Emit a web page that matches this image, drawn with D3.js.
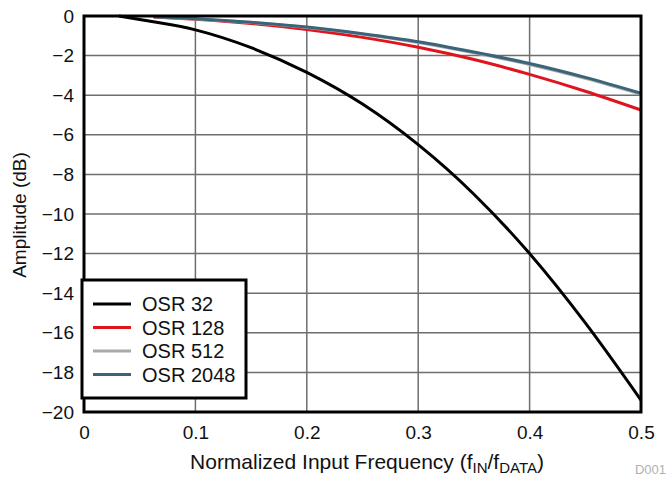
<!DOCTYPE html>
<html>
<head>
<meta charset="utf-8">
<script src="https://cdn.jsdelivr.net/npm/d3@7"></script>
<style>
  body { margin: 0; background: #fff; }
  text { font-family: "Liberation Sans", Arial, sans-serif; fill: #111; }
</style>
</head>
<body>
<svg id="chart" width="668" height="477"></svg>
<script>
// frequency points (f_IN / f_DATA)
var freqLow = [0.03125, 0.05, 0.1, 0.15, 0.2, 0.25, 0.3, 0.35, 0.4, 0.45, 0.5];
var freqHigh = [0.0625, 0.1, 0.15, 0.2, 0.25, 0.3, 0.35, 0.4, 0.45, 0.5];

// amplitude in dB
var osr32 = [0, -0.18, -0.7, -1.6, -2.85, -4.45, -6.5, -9.0, -12.0, -15.5, -19.4];
var osr128 = [-0.05, -0.17, -0.38, -0.68, -1.08, -1.58, -2.2, -2.95, -3.8, -4.75];
var osr512 = [-0.04, -0.15, -0.33, -0.58, -0.92, -1.34, -1.86, -2.45, -3.15, -3.95];
var osr2048 = [-0.04, -0.14, -0.32, -0.56, -0.9, -1.3, -1.82, -2.4, -3.1, -3.9];

var seriesNames = ["OSR 32", "OSR 128", "OSR 512", "OSR 2048"];
var seriesColors = ["#000000", "#e0141c", "#a9a9a9", "#3b6478"];

var xTicks = [0, 0.1, 0.2, 0.3, 0.4, 0.5];
var yTicks = [0, -2, -4, -6, -8, -10, -12, -14, -16, -18, -20];

(function(){
    var svg = d3.select("#chart");
    var left = 84, right = 641, top = 16, bottom = 412;
    var font = "Liberation Sans, Arial, sans-serif";

    var x = d3.scaleLinear().domain([0, 0.5]).range([left, right]);
    var y = d3.scaleLinear().domain([0, -20]).range([top, bottom]);

    //grid
    svg.append("g").selectAll("line").data(yTicks).enter().append("line")
        .attr("x1", left).attr("x2", right)
        .attr("y1", function(d){ return y(d); }).attr("y2", function(d){ return y(d); })
        .attr("stroke", "#6e6e6e").attr("stroke-width", 1.5);
    svg.append("g").selectAll("line").data(xTicks).enter().append("line")
        .attr("y1", top).attr("y2", bottom)
        .attr("x1", function(d){ return x(d); }).attr("x2", function(d){ return x(d); })
        .attr("stroke", "#6e6e6e").attr("stroke-width", 1.5);

    //tick labels via d3 axes
    var xAxis = d3.axisBottom(x).tickValues(xTicks).tickSize(0).tickPadding(14)
        .tickFormat(function(d){ return d === 0 ? "0" : d3.format(".1f")(d); });
    var gx = svg.append("g").attr("transform", "translate(0," + bottom + ")").call(xAxis);
    gx.select(".domain").remove();
    gx.selectAll("text").attr("font-size", 19).attr("font-family", font).attr("fill", "#111");

    var yAxis = d3.axisLeft(y).tickValues(yTicks).tickSize(0).tickPadding(10)
        .tickFormat(d3.format("d"));
    var gy = svg.append("g").attr("transform", "translate(" + left + ",0)").call(yAxis);
    gy.select(".domain").remove();
    gy.selectAll("text").attr("font-size", 19).attr("font-family", font).attr("fill", "#111");

    //curves
    var line = d3.line()
        .x(function(d){ return x(d[0]); })
        .y(function(d){ return y(d[1]); })
        .curve(d3.curveMonotoneX);
    var all = [
        d3.zip(freqLow, osr32),
        d3.zip(freqHigh, osr128),
        d3.zip(freqHigh, osr512),
        d3.zip(freqHigh, osr2048)
    ];
    svg.append("g").selectAll("path").data(all).enter().append("path")
        .attr("d", line)
        .attr("fill", "none")
        .attr("stroke", function(d, i){ return seriesColors[i]; })
        .attr("stroke-width", 3);

    //frame
    svg.append("rect")
        .attr("x", left).attr("y", top)
        .attr("width", right - left).attr("height", bottom - top)
        .attr("fill", "none").attr("stroke", "#000").attr("stroke-width", 3);

    //legend
    var lg = svg.append("g");
    lg.append("rect")
        .attr("x", 82).attr("y", 280).attr("width", 164).attr("height", 118)
        .attr("fill", "#fff").attr("stroke", "#000").attr("stroke-width", 3);
    var rows = lg.selectAll("g.row").data(seriesNames).enter().append("g")
        .attr("transform", function(d, i){ return "translate(0," + (304 + i * 23.5) + ")"; });
    rows.append("line")
        .attr("x1", 93).attr("x2", 131).attr("y1", 0).attr("y2", 0)
        .attr("stroke", function(d, i){ return seriesColors[i]; })
        .attr("stroke-width", 3);
    rows.append("text")
        .attr("x", 142).attr("y", 7)
        .attr("font-size", 20)
        .text(function(d){ return d; });

    //axis titles
    svg.append("text")
        .attr("transform", "translate(26," + 215 + ") rotate(-90)")
        .attr("text-anchor", "middle")
        .attr("font-size", 19)
        .text("Amplitude (dB)");

    var xt = svg.append("text")
        .attr("x", 367).attr("y", 469)
        .attr("text-anchor", "middle")
        .attr("font-size", 21);
    xt.append("tspan").text("Normalized Input Frequency (f");
    xt.append("tspan").attr("font-size", 15).attr("dy", 4).text("IN");
    xt.append("tspan").attr("dy", -4).text("/f");
    xt.append("tspan").attr("font-size", 15).attr("dy", 4).text("DATA");
    xt.append("tspan").attr("dy", -4).text(")");

    svg.append("text")
        .attr("x", 666).attr("y", 474)
        .attr("text-anchor", "end")
        .attr("font-size", 13)
        .style("fill", "#b0b0b0")
        .text("D001");
})();
</script>
</body>
</html>
